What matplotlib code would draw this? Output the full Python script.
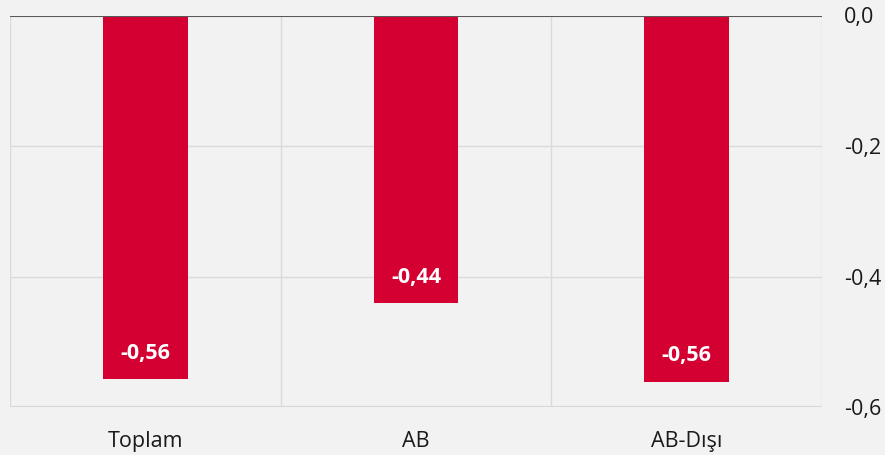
import matplotlib
matplotlib.use("Agg")
import matplotlib.pyplot as plt
import numpy as np

categories = ["Toplam", "AB", "AB-Dışı"]
values = [-0.557, -0.441, -0.561]
yticks = [0.0, -0.2, -0.4, -0.6]
ytick_labels = ["0,0", "-0,2", "-0,4", "-0,6"]

plt.rcParams['font.family'] = ['Open Sans', 'DejaVu Sans']

W, H = 885, 455
fig = plt.figure(figsize=(W/100, H/100), dpi=100)
fig.patch.set_facecolor("#f2f2f2")
ax = fig.add_axes([10/W, (H-407)/H, (822-10)/W, (407-15.5)/H])
ax.set_facecolor("#f2f2f2")

x = np.arange(len(categories))
bars = ax.bar(x, values, width=0.314, color="#D50032", zorder=3)

ax.set_xlim(-0.5, len(categories)-0.5)
ax.set_ylim(-0.6, 0.0)

# grid
for yv in yticks[1:-1]:
    ax.axhline(yv, color="#dadada", lw=1.0, zorder=1)
for b in np.arange(-0.5, len(categories), 1.0):
    ax.axvline(b, color="#dadada", lw=1.0, zorder=1)
ax.axhline(-0.6, color="#d6d6d6", lw=1.5, zorder=1)
ax.axhline(0.0, color="#595959", lw=1.5, zorder=4)

for s in ax.spines.values():
    s.set_visible(False)

ax.yaxis.tick_right()
ax.set_yticks(yticks)
ax.set_yticklabels(ytick_labels)
ax.tick_params(axis="y", length=0, pad=16, labelsize=15.5, labelcolor="#1a1a1a")
ax.set_xticks(x)
ax.set_xticklabels(categories)
ax.tick_params(axis="x", length=0, pad=17, labelsize=15.5, labelcolor="#1a1a1a")

for xi, v in zip(x, values):
    ax.annotate(f"{v:.2f}".replace(".", ","), (xi, v), xytext=(0, 18.5),
                textcoords="offset points", ha="center", va="center",
                color="white", fontsize=15.5, fontweight="bold", zorder=5)

fig.savefig("out.png", dpi=100, facecolor=fig.get_facecolor())
